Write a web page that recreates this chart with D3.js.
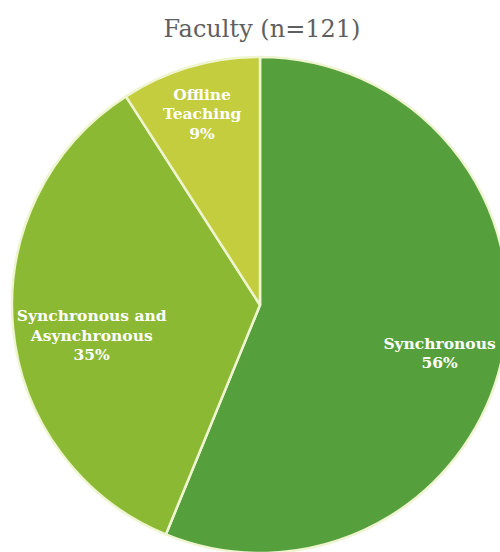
<!DOCTYPE html>
<html><head><meta charset="utf-8">
<script src="https://cdn.jsdelivr.net/npm/d3@7"></script>
<style>body{margin:0;background:#fff}svg{display:block}</style>
</head><body>
<script>
const title = "Faculty (n=121)";
const categories = ["Synchronous", "Synchronous and Asynchronous", "Offline Teaching"];
const counts = [68, 42, 11];
const percentLabels = ["56%", "35%", "9%"];
const labelLines = [["Synchronous"], ["Synchronous and", "Asynchronous"], ["Offline", "Teaching"]];
const colors = ["#55a03c", "#8cb934", "#c3cd3d"];

const W = 500, H = 552;
const cx = 260, cy = 305, R = 248;
const svg = d3.select("body").append("svg").attr("width", W).attr("height", H);

svg.append("text").attr("x", 262).attr("y", 37).attr("text-anchor", "middle")
  .attr("font-family", "DejaVu Serif").attr("font-size", 24).attr("fill", "#5f5f5f")
  .text(title);

const pie = d3.pie().sort(null).value(d => d)(counts);
const arc = d3.arc().innerRadius(0).outerRadius(R);
const g = svg.append("g").attr("transform", `translate(${cx},${cy})`);
g.selectAll("path").data(pie).join("path")
  .attr("d", arc).attr("fill", (d, i) => colors[i])
  .attr("stroke", "#eef5d0").attr("stroke-width", 2.5).attr("stroke-linejoin", "round");

const labelR = [183, 170, 200];
const nudge = [[0, 12.5], [1, 15], [-1.6, 0.8]];
pie.forEach((d, i) => {
  const a = (d.startAngle + d.endAngle) / 2;
  const x = Math.sin(a) * labelR[i] + nudge[i][0];
  const y = -Math.cos(a) * labelR[i] + nudge[i][1];
  const lines = labelLines[i].concat([percentLabels[i]]);
  const lh = 19.5;
  const t = g.append("text").attr("text-anchor", "middle")
    .attr("font-family", "DejaVu Serif").attr("font-weight", "bold")
    .attr("font-size", 15.5).attr("fill", "#fff");
  lines.forEach((s, k) => {
    t.append("tspan").attr("x", x)
      .attr("y", y + (k - (lines.length - 1) / 2) * lh + 5.5).text(s);
  });
});
</script>
</body></html>
